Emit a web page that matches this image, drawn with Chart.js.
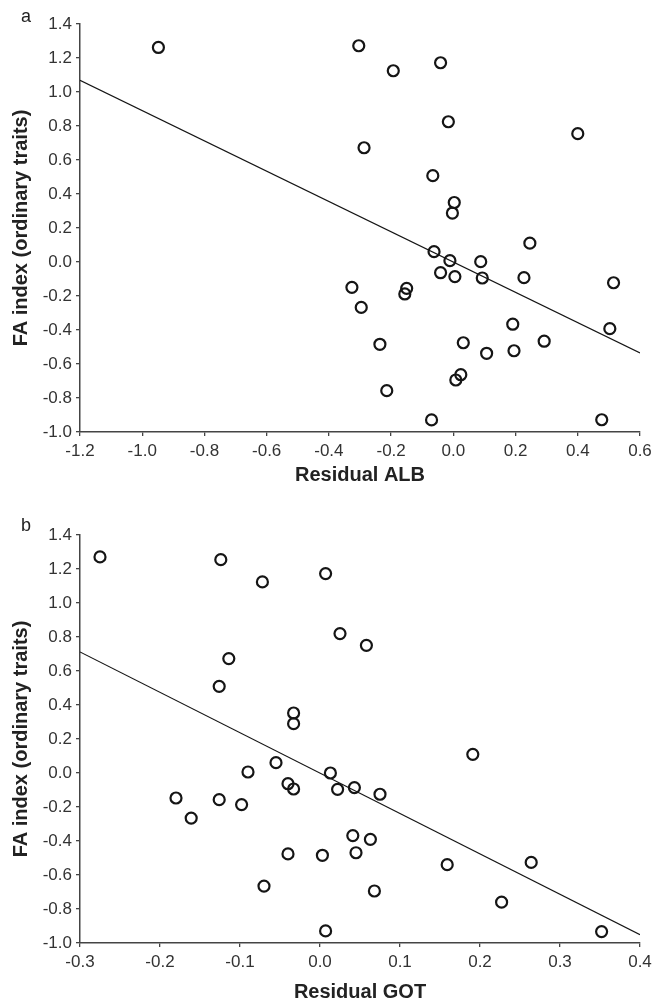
<!DOCTYPE html>
<html>
<head>
<meta charset="utf-8">
<script src="https://cdn.jsdelivr.net/npm/chart.js@4.4.1/dist/chart.umd.min.js"></script>
<style>
  body { margin: 0; background: #fff; }
  .wrap { position: relative; width: 657px; height: 1002px; overflow: hidden; }
  canvas { position: absolute; left: 0; }
  .panel { position: absolute; left: 21px; font: 18px "Liberation Sans", Arial, sans-serif; color: #222; }
</style>
</head>
<body>
<div class="wrap">
  <canvas id="chart-a" width="657" height="500" style="top:0"></canvas>
  <canvas id="chart-b" width="657" height="502" style="top:500px"></canvas>
  <div class="panel" style="top:6px">a</div>
  <div class="panel" style="top:515px">b</div>
</div>
<script>
// FA index against residual ALB (panel a)
const albX = [-0.948, -0.304, -0.193, -0.041, -0.016, 0.400, -0.287, -0.066, 0.003, -0.003,
              0.246, -0.062, -0.011, 0.088, -0.041, 0.005, 0.093, 0.227, 0.515, -0.326,
              -0.150, -0.156, -0.296, 0.191, 0.503, 0.292, 0.032, -0.236, 0.195, 0.107,
              0.024, 0.008, -0.214, -0.070, 0.477];
const albFA = [1.262, 1.272, 1.125, 1.172, 0.825, 0.755, 0.672, 0.508, 0.350, 0.288,
               0.111, 0.061, 0.008, 0.002, -0.063, -0.086, -0.094, -0.092, -0.122, -0.149,
               -0.155, -0.188, -0.267, -0.366, -0.392, -0.466, -0.475, -0.484, -0.522, -0.537,
               -0.663, -0.694, -0.757, -0.929, -0.928];
const albFitX = [-1.2, 0.6];
const albFitY = [1.069, -0.535];

// FA index against residual GOT (panel b)
const gotX = [-0.275, -0.124, -0.072, 0.007, 0.025, 0.058, -0.114, -0.126, -0.033, -0.033,
              0.191, -0.055, -0.090, 0.013, -0.040, -0.033, 0.022, 0.043, 0.075, -0.180,
              -0.126, -0.098, -0.161, 0.041, 0.063, -0.040, 0.003, 0.045, 0.159, 0.264,
              -0.070, 0.068, 0.227, 0.007, 0.352];
const gotFA = [1.271, 1.255, 1.124, 1.173, 0.820, 0.751, 0.673, 0.510, 0.353, 0.290,
               0.110, 0.061, 0.006, 0.000, -0.063, -0.094, -0.096, -0.086, -0.125, -0.147,
               -0.157, -0.186, -0.265, -0.368, -0.390, -0.476, -0.484, -0.469, -0.539, -0.526,
               -0.665, -0.694, -0.760, -0.929, -0.933];
const gotFitX = [-0.3, 0.4];
const gotFitY = [0.712, -0.951];

const faTicks = [-1.0, -0.8, -0.6, -0.4, -0.2, 0.0, 0.2, 0.4, 0.6, 0.8, 1.0, 1.2, 1.4];
const albTicks = [-1.2, -1.0, -0.8, -0.6, -0.4, -0.2, 0.0, 0.2, 0.4, 0.6];
const gotTicks = [-0.3, -0.2, -0.1, 0.0, 0.1, 0.2, 0.3, 0.4];

const yTitle = 'FA index (ordinary traits)';
const axisColor = '#444';
const tickFont = { family: '"Liberation Sans", Arial, sans-serif', size: 17 };
const titleFont = { family: '"Liberation Sans", Arial, sans-serif', size: 20, weight: 'bold', lineHeight: 1 };

function fmt(v) {
    if (Math.abs(v) < 1e-9) return '0.0';
    return v.toFixed(1);
}

function pairs(xs, ys) {
    return xs.map((x, i) => ({ x: x, y: ys[i] }));
}

function makeChart(id, xs, ys, fitX, fitY, xTicks, xTitle, padding, xHeight) {
    const ctx = document.getElementById(id).getContext('2d');
    return new Chart(ctx, {
        type: 'scatter',
        data: {
            datasets: [{
                data: pairs(xs, ys),
                pointRadius: 5.5,
                pointBorderWidth: 2.2,
                pointBorderColor: '#151515',
                pointBackgroundColor: 'rgba(255,255,255,0)'
            }, {
                data: pairs(fitX, fitY),
                showLine: true,
                pointRadius: 0,
                borderColor: '#151515',
                borderWidth: 1.1
            }]
        },
        options: {
            responsive: false,
            animation: false,
            events: [],
            layout: { padding: padding },
            plugins: { legend: { display: false }, tooltip: { enabled: false } },
            scales: {
                x: {
                    type: 'linear',
                    min: xTicks[0],
                    max: xTicks[xTicks.length - 1],
                    afterBuildTicks: s => { s.ticks = xTicks.map(v => ({ value: v })); },
                    afterFit: s => { s.height = xHeight; },
                    grid: { drawOnChartArea: false, drawTicks: true, tickLength: 4, color: axisColor, lineWidth: 1.3 },
                    border: { color: axisColor, width: 1.5 },
                    ticks: { color: '#333', font: tickFont, padding: 5, maxRotation: 0, callback: v => fmt(v) },
                    title: { display: true, text: xTitle, color: '#222', font: titleFont, padding: { top: 0, bottom: 0 } }
                },
                y: {
                    type: 'linear',
                    min: -1.0,
                    max: 1.4,
                    afterBuildTicks: s => { s.ticks = faTicks.map(v => ({ value: v })); },
                    afterFit: s => { s.width = 80; },
                    grid: { drawOnChartArea: false, drawTicks: true, tickLength: 4, color: axisColor, lineWidth: 1.3 },
                    border: { color: axisColor, width: 1.5 },
                    ticks: { color: '#333', font: tickFont, padding: 4, callback: v => fmt(v) },
                    title: { display: true, text: yTitle, color: '#222', font: titleFont, padding: { top: 11, bottom: 0 } }
                }
            }
        }
    });
}

makeChart('chart-a', albX, albFA, albFitX, albFitY, albTicks, 'Residual ALB',
          { top: 24, right: 17, bottom: 15, left: 0 }, 53);
makeChart('chart-b', gotX, gotFA, gotFitX, gotFitY, gotTicks, 'Residual GOT',
          { top: 35, right: 17, bottom: 0, left: 0 }, 59);
</script>
</body>
</html>
